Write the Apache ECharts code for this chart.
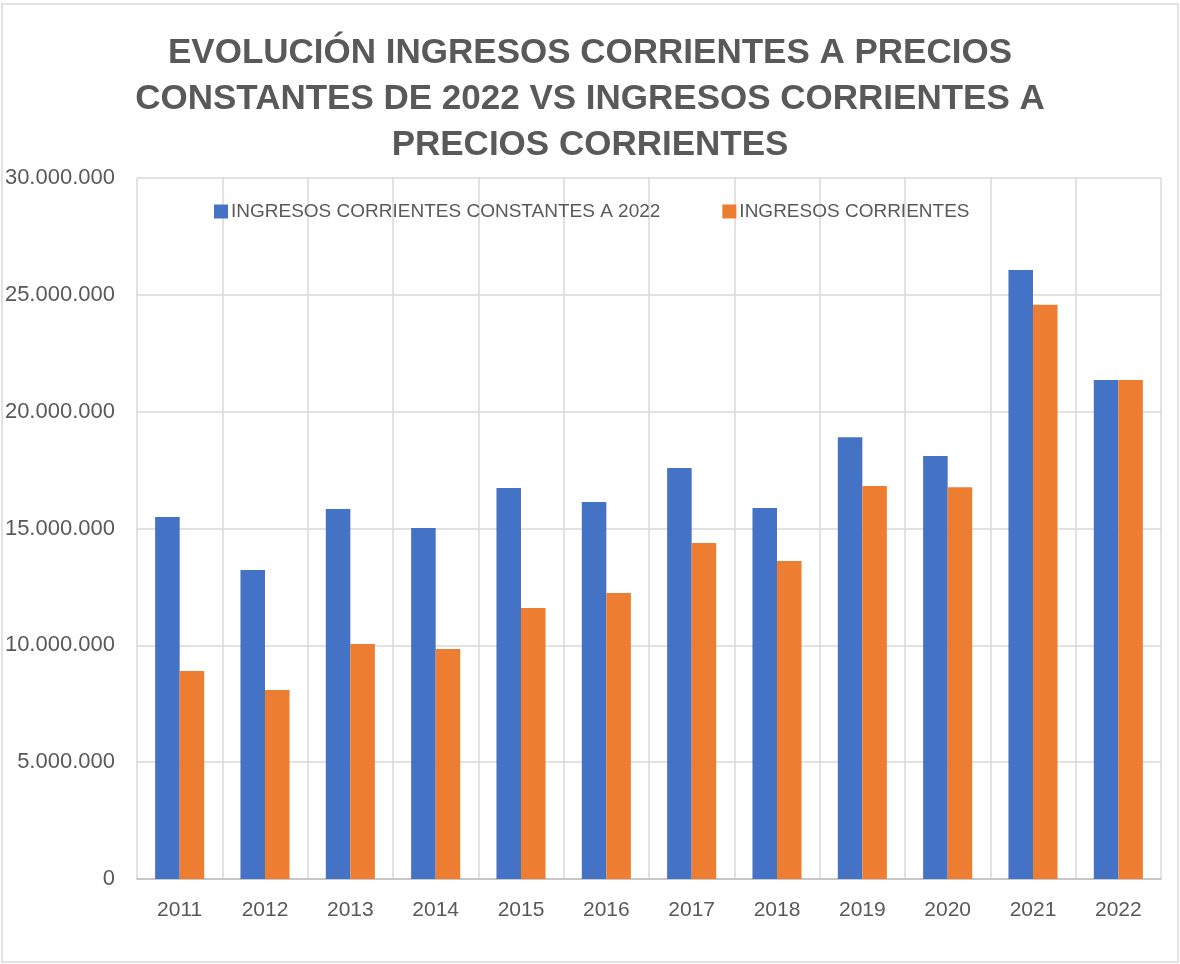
<!DOCTYPE html>
<html>
<head>
<meta charset="utf-8">
<script src="https://cdn.jsdelivr.net/npm/echarts@6/dist/echarts.min.js"></script>
<style>
  html, body { margin: 0; padding: 0; background: #fff; }
  #chart { width: 1180px; height: 964px; }
</style>
</head>
<body>
<div id="chart"></div>
<script>
'use strict';

var years = ['2011', '2012', '2013', '2014', '2015', '2016', '2017', '2018', '2019', '2020', '2021', '2022'];
var constantes = [15490000, 13220000, 15830000, 15020000, 16730000, 16130000, 17590000, 15880000, 18910000, 18100000, 26060000, 21350000];
var corrientes = [8900000, 8090000, 10060000, 9840000, 11600000, 12240000, 14380000, 13610000, 16820000, 16770000, 24580000, 21350000];
var yTicks = [0, 5000000, 10000000, 15000000, 20000000, 25000000, 30000000];

var grey = '#595959';
var fontFamily = '"Liberation Sans", Arial, sans-serif';

// 30000000 -> 30.000.000
var thousands = function(v) {
  return String(v).replace(/\B(?=(\d{3})+(?!\d))/g, '.');
};

var chart = echarts.init(document.getElementById('chart'));

chart.setOption({
  animation: false,
  textStyle: { fontFamily: fontFamily },
  title: {
    text: 'EVOLUCIÓN INGRESOS CORRIENTES A PRECIOS\nCONSTANTES DE 2022 VS INGRESOS CORRIENTES A\nPRECIOS CORRIENTES',
    left: 'center',
    top: 25,
    textStyle: {
      color: grey,
      fontSize: 35,
      fontWeight: 'bold',
      lineHeight: 46,
      fontFamily: fontFamily
    }
  },
  legend: {
    left: 209,
    top: 197,
    icon: 'rect',
    itemWidth: 14,
    itemHeight: 14,
    itemGap: 62,
    textStyle: { color: grey, fontSize: 19, padding: [0, 0, 0, -2] },
    data: ['INGRESOS CORRIENTES CONSTANTES A 2022', 'INGRESOS CORRIENTES']
  },
  grid: {
    left: 137,
    right: 19,
    top: 178,
    bottom: 85,
    containLabel: false
  },
  xAxis: {
    type: 'category',
    data: years,
    axisTick: { show: false },
    axisLine: { lineStyle: { color: '#bfbfbf', width: 1.5 } },
    axisLabel: { color: grey, fontSize: 21, margin: 21 },
    splitLine: { show: true, lineStyle: { color: '#d9d9d9', width: 1.5 } }
  },
  yAxis: {
    type: 'value',
    min: yTicks[0],
    max: yTicks[yTicks.length - 1],
    interval: yTicks[1] - yTicks[0],
    axisLine: { show: false },
    axisTick: { show: false },
    axisLabel: {
      color: grey,
      fontSize: 22,
      margin: 22,
      formatter: thousands
    },
    splitLine: { lineStyle: { color: '#d9d9d9', width: 1.5 } }
  },
  series: [
    {
      name: 'INGRESOS CORRIENTES CONSTANTES A 2022',
      type: 'bar',
      data: constantes,
      barGap: '0%',
      barCategoryGap: '42.5%',
      itemStyle: { color: '#4472C4' }
    },
    {
      name: 'INGRESOS CORRIENTES',
      type: 'bar',
      data: corrientes,
      barGap: '0%',
      barCategoryGap: '42.5%',
      itemStyle: { color: '#ED7D31' }
    }
  ],
  graphic: [{
    type: 'rect',
    silent: true,
    shape: { x: 2, y: 4, width: 1176, height: 958 },
    style: { fill: 'none', stroke: '#d9d9d9', lineWidth: 1.5 }
  }]
});
</script>
</body>
</html>
